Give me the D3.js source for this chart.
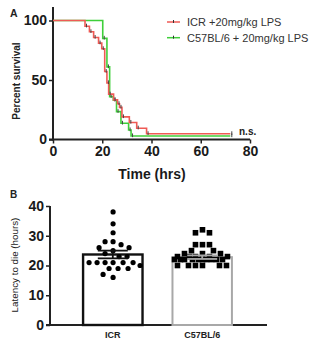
<!DOCTYPE html>
<html>
<head>
<meta charset="utf-8">
<script src="https://cdn.jsdelivr.net/npm/d3@7"></script>
<style>
  html, body { margin: 0; padding: 0; background: #fff; }
  svg { display: block; }
  text { font-family: "Liberation Sans", Arial, sans-serif; }
</style>
</head>
<body>
<svg id="chart" width="311" height="340"></svg>
<script>
// ---------- Panel A data (Kaplan-Meier) ----------
const survivalSeries = ["ICR +20mg/kg LPS", "C57BL/6 + 20mg/kg LPS"];
const survivalColors = ["#ef5a55", "#3fcf3a"];
const icrTime = [0, 13, 14.8, 16.5, 18.5, 19.8, 21, 21.9, 22.6, 24.6, 26.2, 27, 28, 31, 34, 38, 72];
const icrSurv = [100, 95.2, 90.5, 85.7, 81, 76.2, 57.1, 47.6, 38.1, 33.3, 30, 27, 19, 14.3, 9.5, 4.8, 4.8];
const c57Time = [0, 20.2, 21.9, 23, 24.5, 25.8, 27.6, 30.7, 31.7, 72];
const c57Surv = [100, 85, 61, 36, 33, 23.4, 13.6, 8, 3, 3];
const xTicksA = [0, 20, 40, 60, 80];
const yTicksA = [0, 50, 100];

// ---------- Panel B data ----------
const groups = ["ICR", "C57BL/6"];
const groupMeans = [23.7, 22.8];
const groupSems = [1.3, 0.6];
const icrLatency = [38, 34, 31, 28, 28, 27, 26, 26, 25, 24, 23, 23, 21, 21, 21, 21, 21, 21, 20, 19, 19, 19, 17, 16];
const c57Latency = [32, 31, 31, 27, 27, 27, 25, 25, 24, 24, 24, 23, 23, 23, 23, 23, 22, 22, 22, 22, 22, 22, 22, 22, 22, 22, 20, 20, 20, 20, 20, 20];
const yTicksB = [0, 10, 20, 30, 40];

const svg = d3.select("#chart");
const axisColor = "#222";

// ================= Panel A =================
const xA = d3.scaleLinear().domain([0, 80]).range([53, 250]);
const yA = d3.scaleLinear().domain([0, 100]).range([139.5, 20.5]);

svg.append("text").attr("x", 10).attr("y", 17).attr("font-size", 10.5).attr("font-weight", "bold").attr("fill", "#222").text("A");

const gA = svg.append("g");
const yAxisA = d3.axisLeft(yA).tickValues(yTicksA).tickSize(4).tickSizeOuter(0).tickPadding(2);
const gyA = gA.append("g").attr("transform", `translate(${xA(0)},0)`).call(yAxisA);
gyA.select(".domain").remove();
gA.append("line").attr("x1", xA(0)).attr("x2", xA(0)).attr("y1", 7).attr("y2", yA(0) + 1)
  .attr("stroke", axisColor).attr("stroke-width", 2);
const xAxisA = d3.axisBottom(xA).tickValues(xTicksA).tickSize(4).tickSizeOuter(0).tickPadding(3);
const gxA = gA.append("g").attr("transform", `translate(0,${yA(0)})`).call(xAxisA);
gxA.select(".domain").remove();
gA.append("line").attr("x1", xA(0) - 4).attr("x2", xA(80)).attr("y1", yA(0)).attr("y2", yA(0))
  .attr("stroke", axisColor).attr("stroke-width", 2);
[gyA, gxA].forEach(g => {
  g.selectAll(".tick line").attr("stroke", axisColor).attr("stroke-width", 1.5);
  g.selectAll(".tick text").attr("font-size", 14).attr("font-weight", "bold").attr("fill", "#1a1a1a")
    .attr("font-family", "'Liberation Sans', Arial, sans-serif");
});

svg.append("text").attr("transform", `translate(20,${yA(50) + 1}) rotate(-90)`).attr("text-anchor", "middle")
  .attr("font-size", 10).attr("font-weight", "bold").attr("fill", "#222").text("Percent survival");
svg.append("text").attr("x", 152).attr("y", 179).attr("text-anchor", "middle")
  .attr("font-size", 14).attr("font-weight", "bold").attr("fill", "#1a1a1a").text("Time (hrs)");

const seriesA = [
  { t: icrTime, s: icrSurv, color: survivalColors[0] },
  { t: c57Time, s: c57Surv, color: survivalColors[1] }
];
const line = d3.line().x(d => xA(d[0])).y(d => yA(d[1])).curve(d3.curveStepAfter);
[seriesA[1], seriesA[0]].forEach(sr => {
  const pts = sr.t.map((t, i) => [t, sr.s[i]]);
  gA.append("path").datum(pts).attr("d", line).attr("fill", "none")
    .attr("stroke", sr.color).attr("stroke-width", 1.6);
  pts.slice(1).forEach(p => {
    gA.append("line").attr("x1", xA(p[0]) + 1.5).attr("x2", xA(p[0]) + 1.5)
      .attr("y1", yA(p[1]) - 2.5).attr("y2", yA(p[1]) + 1.2)
      .attr("stroke", "#444").attr("stroke-width", 1);
  });
});

svg.append("text").attr("x", 239).attr("y", 135).attr("font-size", 10).attr("font-weight", "bold")
  .attr("fill", "#222").text("n.s.");

survivalSeries.forEach((name, i) => {
  const ly = 22 + i * 15.7;
  svg.append("line").attr("x1", 167).attr("x2", 180).attr("y1", ly).attr("y2", ly)
    .attr("stroke", survivalColors[i]).attr("stroke-width", 1.5);
  svg.append("line").attr("x1", 173.5).attr("x2", 173.5).attr("y1", ly - 2).attr("y2", ly + 1)
    .attr("stroke", "#333").attr("stroke-width", 1);
  svg.append("text").attr("x", 187).attr("y", ly + 4).attr("font-size", 11).attr("fill", "#333").text(name);
});

// ================= Panel B =================
const yB = d3.scaleLinear().domain([0, 40]).range([325, 206]);
const xB = d3.scaleBand().domain(groups).range([50, 265]).paddingInner(0.335).paddingOuter(0.37);

svg.append("text").attr("x", 10).attr("y", 198).attr("font-size", 10).attr("font-weight", "bold").attr("fill", "#222").text("B");

const gB = svg.append("g");
const yAxisB = d3.axisLeft(yB).tickValues(yTicksB).tickSize(4).tickSizeOuter(0).tickPadding(2);
const gyB = gB.append("g").attr("transform", `translate(50,0)`).call(yAxisB);
gyB.select(".domain").remove();
gyB.selectAll(".tick line").attr("stroke", axisColor).attr("stroke-width", 1.5);
gyB.selectAll(".tick text").attr("font-size", 14).attr("font-weight", "bold").attr("fill", "#1a1a1a")
  .attr("font-family", "'Liberation Sans', Arial, sans-serif");
gB.append("line").attr("x1", 50).attr("x2", 50).attr("y1", yB(40)).attr("y2", yB(0))
  .attr("stroke", axisColor).attr("stroke-width", 2);
gB.append("line").attr("x1", 46).attr("x2", 267).attr("y1", yB(0)).attr("y2", yB(0))
  .attr("stroke", axisColor).attr("stroke-width", 2);

svg.append("text").attr("transform", `translate(18,265) rotate(-90)`).attr("text-anchor", "middle")
  .attr("font-size", 9.8).attr("fill", "#222").text("Latency to die (hours)");

groups.forEach(g => {
  svg.append("text").attr("x", xB(g) + xB.bandwidth() / 2).attr("y", 338).attr("text-anchor", "middle")
    .attr("font-size", 9).attr("font-weight", "bold").attr("fill", "#222").text(g);
});

const barColors = ["#111", "#a8a8a8"];

groups.forEach((g, i) => {
  gB.append("rect").attr("x", xB(g)).attr("y", yB(groupMeans[i]))
    .attr("width", xB.bandwidth()).attr("height", yB(0) - yB(groupMeans[i]))
    .attr("fill", "#fff").attr("stroke", barColors[i]).attr("stroke-width", i === 0 ? 2.4 : 2);
});

// swarm layout confined to the bar width
function swarm(values, cx, minDist, maxOff) {
  const placed = [];
  const cands = d3.range(-maxOff, maxOff + 0.01, 1).sort((a, b) => Math.abs(a) - Math.abs(b) || b - a);
  values.forEach(v => {
    const y = yB(v);
    let best = null, bestD = -1;
    for (const off of cands) {
      const x = cx + off;
      const dmin = placed.length ? d3.min(placed, p => Math.hypot(p.x - x, p.y - y)) : Infinity;
      if (dmin >= minDist) { best = x; break; }
      if (dmin > bestD + 0.5) { bestD = dmin; best = x; }
    }
    placed.push({ x: best, y });
  });
  return placed;
}

const half = xB.bandwidth() / 2;
const icrPts = swarm(icrLatency, xB("ICR") + half, 8, half - 2);
gB.selectAll(".dot").data(icrPts).join("circle").attr("class", "dot")
  .attr("cx", d => d.x).attr("cy", d => d.y).attr("r", 2.6).attr("fill", "#000");

const c57Pts = swarm(c57Latency, xB("C57BL/6") + half, 7, half - 2);
gB.selectAll(".sq").data(c57Pts).join("rect").attr("class", "sq")
  .attr("x", d => d.x - 2.8).attr("y", d => d.y - 2.8).attr("width", 5.6).attr("height", 5.6).attr("fill", "#000");

groups.forEach((g, i) => {
  const cx = xB(g) + half;
  const lo = yB(groupMeans[i] - groupSems[i]), hi = yB(groupMeans[i] + groupSems[i]);
  gB.append("line").attr("x1", cx).attr("x2", cx).attr("y1", lo).attr("y2", hi)
    .attr("stroke", barColors[i]).attr("stroke-width", 1.8);
  [lo, hi].forEach(yy => {
    gB.append("line").attr("x1", cx - 15).attr("x2", cx + 15).attr("y1", yy).attr("y2", yy)
      .attr("stroke", barColors[i]).attr("stroke-width", 1.8);
  });
});
</script>
</body>
</html>
